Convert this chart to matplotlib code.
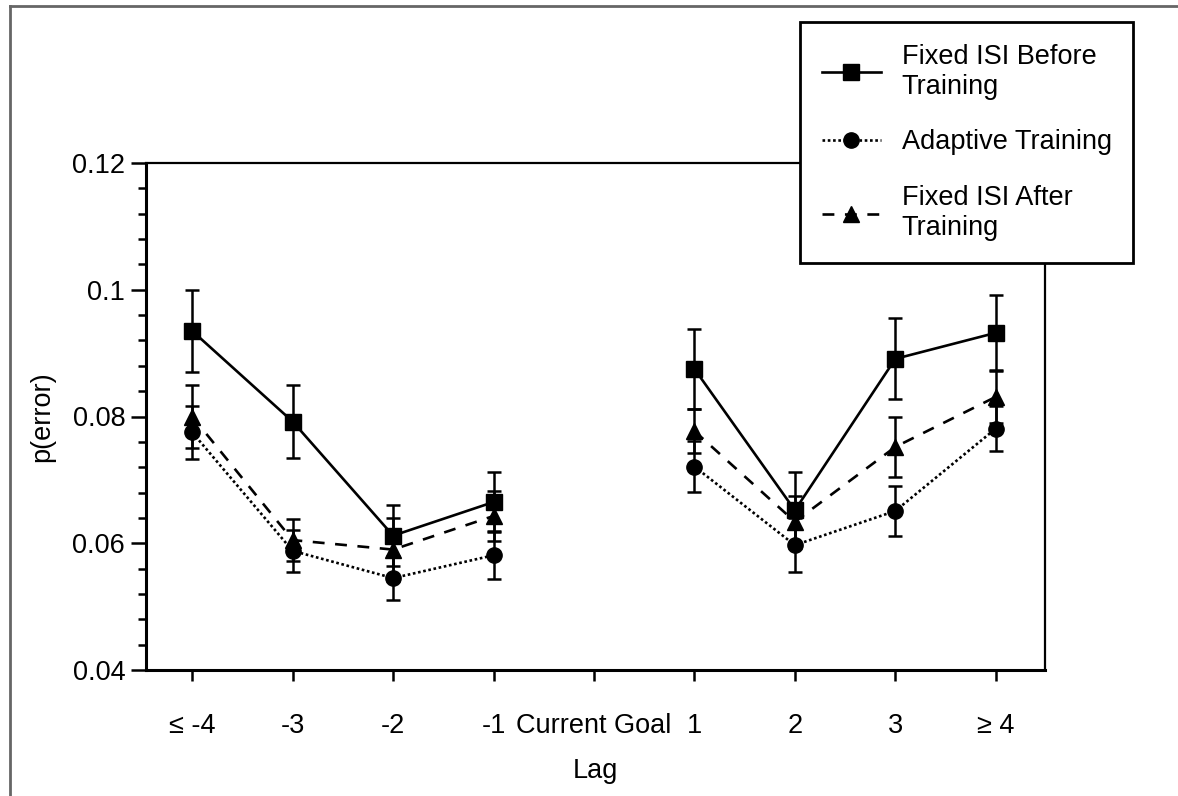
import numpy as np
import matplotlib
matplotlib.use("Agg")
import matplotlib.pyplot as plt
from matplotlib.lines import Line2D

plt.rcParams['font.family'] = ['Liberation Sans', 'DejaVu Sans']

# lag categories (index 4 = current goal, no data)
lags = ['≤ -4', '-3', '-2', '-1', 'Current Goal', '1', '2', '3', '≥ 4']

before_mean = [0.0935, 0.0792, 0.0612, 0.0665, np.nan, 0.0875, 0.0652, 0.0891, 0.0932]
before_err = [0.0064, 0.0058, 0.0048, 0.0047, np.nan, 0.0063, 0.0060, 0.0064, 0.0060]

adaptive_mean = [0.0775, 0.0588, 0.0545, 0.0581, np.nan, 0.0721, 0.0597, 0.0651, 0.0781]
adaptive_err = [0.0042, 0.0033, 0.0035, 0.0038, np.nan, 0.0040, 0.0043, 0.0040, 0.0036]

after_mean = [0.0800, 0.0605, 0.0590, 0.0643, np.nan, 0.0777, 0.0634, 0.0752, 0.0831]
after_err = [0.0050, 0.0033, 0.0050, 0.0040, np.nan, 0.0035, 0.0040, 0.0048, 0.0042]

yticks = [0.04, 0.06, 0.08, 0.10, 0.12]
ytick_labels = ['0.04', '0.06', '0.08', '0.1', '0.12']

labels = ['Fixed ISI Before\nTraining', 'Adaptive Training', 'Fixed ISI After\nTraining']

W, H = 1178, 796
fs = 19.5
fig = plt.figure(figsize=(W / 100, H / 100), dpi=100)
ax = fig.add_axes([146 / W, 1 - 670 / H, (1045 - 146) / W, (670 - 163) / H])

x = np.arange(len(lags))
lw = 1.9
styles = [
    (before_mean, before_err, 's', '-', 11.5),
    (adaptive_mean, adaptive_err, 'o', (0, (1.0, 1.0)), 11),
    (after_mean, after_err, '^', (0, (4.5, 4.0)), 11),
]
handles = []
for (m, e, mk, ls, ms) in styles:
    ax.errorbar(x, m, yerr=e, fmt='none', ecolor='black', elinewidth=1.8,
                capsize=5, capthick=1.8, zorder=2)
    h, = ax.plot(x, m, color='black', marker=mk, markersize=ms, linestyle=ls,
                 linewidth=lw, zorder=3)
    handles.append(h)

ax.set_xlim(-0.46, 8.49)
ax.set_ylim(0.04, 0.12)
ax.set_xticks(x)
ax.set_xticklabels(lags)
ax.set_yticks(yticks)
ax.set_yticklabels(ytick_labels)
ax.set_yticks(np.arange(0.04, 0.1201, 0.004), minor=True)

ax.tick_params(axis='x', direction='out', length=8, width=1.8, labelsize=fs, pad=23)
ax.tick_params(axis='y', which='major', direction='out', length=11, width=1.8, labelsize=fs, pad=4)
ax.tick_params(axis='y', which='minor', direction='out', length=6, width=1.8)

for side in ['left', 'bottom']:
    ax.spines[side].set_linewidth(2.2)
for side in ['top', 'right']:
    ax.spines[side].set_linewidth(1.6)

ax.set_xlabel('Lag', fontsize=fs, labelpad=14)
ax.set_ylabel('p(error)', fontsize=fs, labelpad=12)

leg = fig.legend(handles, labels, loc='upper left',
                 bbox_to_anchor=(800 / W, 1 - 22 / H), fontsize=fs,
                 frameon=True, fancybox=False, framealpha=1, edgecolor='black',
                 handlelength=2.2, handletextpad=0.75, borderpad=0.8,
                 labelspacing=1.1, borderaxespad=0)
leg.get_frame().set_linewidth(2)

# scanned page border (top and left only)
fig.add_artist(Line2D([10 / W, 10 / W], [0, 1 - 6 / H], color='#666666', lw=2))
fig.add_artist(Line2D([10 / W, 1], [1 - 6 / H, 1 - 6 / H], color='#666666', lw=2))

fig.savefig('out.png', dpi=100)
